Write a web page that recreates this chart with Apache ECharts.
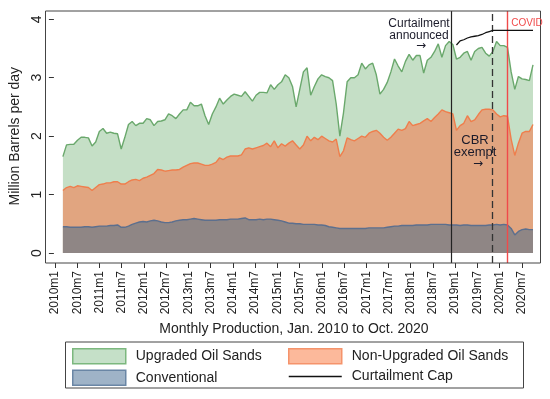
<!DOCTYPE html>
<html>
<head>
<meta charset="utf-8">
<script src="https://cdn.jsdelivr.net/npm/echarts@6/dist/echarts.min.js"></script>
<style>
html,body{margin:0;padding:0;background:#fff;}
#chart{width:550px;height:399px;}
</style>
</head>
<body>
<div id="chart"></div>
<script>
// Categories: monthly labels Jan 2010 .. Oct 2020
const months = [];
for (let y = 2010; y <= 2020; y++) {
  for (let m = 1; m <= 12; m++) {
    if (y === 2020 && m > 10) break;
    months.push(y + 'm' + m);
  }
}

// Cumulative (stacked) tops, million barrels per day
// Conventional
const conventional = [
  0.45,0.45,0.44,0.44,0.44,0.44,0.45,0.45,0.44,0.45,
  0.46,0.46,0.46,0.47,0.47,0.48,0.44,0.44,0.46,0.49,
  0.51,0.53,0.54,0.53,0.55,0.56,0.55,0.53,0.52,0.52,
  0.53,0.55,0.56,0.57,0.57,0.58,0.59,0.58,0.57,0.56,
  0.56,0.56,0.56,0.57,0.57,0.57,0.58,0.58,0.58,0.59,
  0.60,0.57,0.57,0.57,0.58,0.57,0.58,0.58,0.57,0.56,
  0.55,0.53,0.51,0.51,0.50,0.50,0.49,0.49,0.49,0.49,
  0.48,0.48,0.47,0.45,0.44,0.43,0.42,0.42,0.42,0.42,
  0.42,0.42,0.42,0.42,0.43,0.43,0.43,0.43,0.43,0.44,
  0.45,0.46,0.46,0.47,0.47,0.47,0.47,0.48,0.48,0.48,
  0.48,0.49,0.49,0.49,0.49,0.49,0.48,0.48,0.48,0.47,
  0.48,0.48,0.47,0.47,0.47,0.47,0.47,0.48,0.48,0.49,
  0.48,0.49,0.48,0.42,0.31,0.37,0.40,0.41,0.40,0.40
];
// Conventional + Non-Upgraded Oil Sands
const nonUpgradedTop = [
  1.07,1.12,1.14,1.12,1.15,1.14,1.13,1.12,1.07,1.12,
  1.17,1.18,1.20,1.20,1.22,1.22,1.18,1.18,1.22,1.25,
  1.26,1.24,1.28,1.30,1.33,1.36,1.43,1.42,1.40,1.41,
  1.42,1.42,1.43,1.47,1.50,1.53,1.54,1.54,1.52,1.50,
  1.50,1.52,1.55,1.63,1.60,1.64,1.66,1.66,1.66,1.68,
  1.78,1.80,1.78,1.80,1.82,1.84,1.88,1.82,1.92,1.80,
  1.87,1.83,1.88,1.92,1.85,1.78,1.85,2.00,1.92,1.98,
  1.94,2.00,1.96,1.92,1.90,1.95,1.65,1.75,1.97,1.94,
  1.92,1.96,2.00,1.98,2.05,2.08,2.10,2.05,1.98,1.93,
  1.98,2.05,2.12,2.10,2.13,2.25,2.18,2.20,2.22,2.26,
  2.30,2.25,2.32,2.38,2.45,2.42,2.40,2.38,2.10,2.18,
  2.22,2.35,2.25,2.28,2.37,2.45,2.46,2.46,2.45,2.38,
  2.33,2.35,2.34,1.95,1.67,1.88,2.05,2.08,2.08,2.20
];
// Total = Conventional + Non-Upgraded + Upgraded Oil Sands
const upgradedTop = [
  1.65,1.85,1.86,1.86,1.93,1.98,1.98,1.97,1.83,1.90,
  2.08,2.13,2.05,2.07,2.05,2.04,1.78,1.98,2.20,2.25,
  2.18,2.22,2.22,2.30,2.28,2.18,2.25,2.26,2.28,2.38,
  2.35,2.30,2.38,2.45,2.45,2.58,2.52,2.52,2.55,2.35,
  2.20,2.38,2.50,2.65,2.55,2.62,2.68,2.72,2.70,2.68,
  2.76,2.68,2.60,2.70,2.75,2.75,2.74,2.88,2.80,2.88,
  2.93,3.05,3.00,2.85,2.50,2.80,3.10,3.17,2.70,2.85,
  2.98,3.05,3.02,3.00,2.95,2.55,2.00,2.40,2.93,3.00,
  3.00,3.05,3.25,3.15,3.22,3.25,3.05,2.72,2.80,2.92,
  3.10,3.32,3.20,3.10,3.28,3.40,3.30,3.38,3.38,3.08,
  3.30,3.35,3.45,3.58,3.35,3.55,3.62,3.57,3.32,3.35,
  3.42,3.45,3.30,3.45,3.50,3.52,3.42,3.37,3.45,3.62,
  3.55,3.55,3.52,3.10,2.80,3.02,2.98,2.97,2.95,3.22
];
// Curtailment cap, Jan 2019 .. Oct 2020
const capMonths = ['2019m1','2019m2','2019m3','2019m4','2019m5','2019m6','2019m7','2019m8','2019m9','2019m10','2019m11','2019m12',
  '2020m1','2020m2','2020m3','2020m4','2020m5','2020m6','2020m7','2020m8','2020m9','2020m10'];
const capValues = [3.56,3.63,3.65,3.68,3.70,3.71,3.72,3.74,3.77,3.79,3.81,3.81,
  3.81,3.81,3.81,3.81,3.81,3.81,3.81,3.81,3.81,3.81];
// Event lines
const eventMonths = ['2018m12','2019m11','2020m3'];

const capSeries = months.map(m => {
  const i = capMonths.indexOf(m);
  return i >= 0 ? capValues[i] : null;
});

const FONT = "'Liberation Sans', Arial, sans-serif";
const chart = echarts.init(document.getElementById('chart'), null, {renderer: 'canvas'});

chart.setOption({
  animation: false,
  backgroundColor: '#ffffff',
  textStyle: {fontFamily: FONT},
  grid: [
    {left: 55, right: 17, top: 19.3, bottom: 146},
    {left: 55, right: 17, top: 11, bottom: 136}
  ],
  xAxis: [
    {gridIndex: 0, type: 'category', data: months, boundaryGap: false, show: false},
    {gridIndex: 1, type: 'category', data: months, boundaryGap: false,
      axisLine: {show: false},
      axisTick: {show: true, interval: 5, length: 5, lineStyle: {color: '#333', width: 1}},
      axisLabel: {interval: 5, rotate: 90, fontSize: 12, color: '#222', margin: 8, fontFamily: FONT},
      splitLine: {show: false},
      name: 'Monthly Production, Jan. 2010 to Oct. 2020',
      nameLocation: 'middle', nameGap: 58,
      nameTextStyle: {fontSize: 14, color: '#222', fontFamily: FONT}
    }
  ],
  yAxis: [
    {gridIndex: 0, type: 'value', min: 0, max: 4, interval: 1, offset: 9,
      axisLine: {show: false},
      axisTick: {show: true, length: 5, lineStyle: {color: '#333', width: 1}},
      axisLabel: {rotate: 90, fontSize: 14, color: '#222', margin: 10, fontFamily: FONT},
      splitLine: {show: false},
      name: 'Million Barrels per day', nameLocation: 'middle', nameGap: 28, nameRotate: 90,
      nameTextStyle: {fontSize: 14, color: '#222', fontFamily: FONT}
    },
    {gridIndex: 1, type: 'value', min: 0, max: 1, show: false}
  ],
  legend: [
    {left: 72, top: 348, orient: 'vertical', padding: 0, itemGap: 5, itemWidth: 53, itemHeight: 15,
      selectedMode: false,
      textStyle: {fontSize: 14, color: '#222', fontFamily: FONT, padding: [0, 0, 0, 5]},
      data: [
        {name: 'Upgraded Oil Sands', icon: 'rect', itemStyle: {color: '#c5e0c8', borderColor: '#7cb87e', borderWidth: 1.5}},
        {name: 'Conventional', icon: 'rect', itemStyle: {color: '#9fb3c7', borderColor: '#6a86a5', borderWidth: 1.5}}
      ]},
    {left: 288, top: 348, orient: 'vertical', padding: 0, itemGap: 5, itemWidth: 53, itemHeight: 15,
      selectedMode: false,
      textStyle: {fontSize: 14, color: '#222', fontFamily: FONT, padding: [0, 0, 0, 5]},
      data: [
        {name: 'Non-Upgraded Oil Sands', icon: 'rect', itemStyle: {color: '#fcb99b', borderColor: '#f5936b', borderWidth: 1.5}},
        {name: 'Curtailment Cap',
          itemStyle: {color: 'rgba(0,0,0,0)', borderColor: 'rgba(0,0,0,0)', borderWidth: 0, opacity: 0},
          lineStyle: {color: '#111', width: 1.5}}
      ]}
  ],
  series: [
    {name: 'Upgraded Oil Sands', type: 'line', xAxisIndex: 0, yAxisIndex: 0, data: upgradedTop,
      symbol: 'none', z: 2,
      lineStyle: {color: '#6aa86c', width: 1.4},
      itemStyle: {color: '#6aa86c'},
      areaStyle: {color: '#c5dfc6', opacity: 1}},
    {name: 'Non-Upgraded Oil Sands', type: 'line', xAxisIndex: 0, yAxisIndex: 0, data: nonUpgradedTop,
      symbol: 'none', z: 3,
      lineStyle: {color: '#ef7e4c', width: 1.4},
      itemStyle: {color: '#ef7e4c'},
      areaStyle: {color: '#e1a580', opacity: 1}},
    {name: 'Conventional', type: 'line', xAxisIndex: 0, yAxisIndex: 0, data: conventional,
      symbol: 'none', z: 4,
      lineStyle: {color: '#5c6f8e', width: 1.4},
      itemStyle: {color: '#5c6f8e'},
      areaStyle: {color: '#8f8685', opacity: 1}},
    {name: 'Curtailment Cap', type: 'line', xAxisIndex: 0, yAxisIndex: 0, data: capSeries,
      symbol: 'none', z: 6, connectNulls: false,
      lineStyle: {color: '#111', width: 1.3},
      itemStyle: {color: '#111'}},
    {name: 'events', type: 'line', xAxisIndex: 1, yAxisIndex: 1, data: months.map(() => null),
      symbol: 'none', z: 5, silent: true,
      markLine: {
        silent: true, symbol: 'none', label: {show: false},
        data: [
          {xAxis: eventMonths[0], lineStyle: {color: '#222', width: 1.2, type: 'solid'}},
          {xAxis: eventMonths[1], lineStyle: {color: '#333', width: 1.3, type: [7, 4]}},
          {xAxis: eventMonths[2], lineStyle: {color: '#f04a4a', width: 1.4, type: 'solid'}}
        ]
      }}
  ],
  graphic: [
    {type: 'rect', z: 10, silent: true, shape: {x: 45.5, y: 11, width: 495, height: 252},
      style: {fill: 'none', stroke: '#444', lineWidth: 1}},
    {type: 'rect', z: 10, silent: true, shape: {x: 65.5, y: 342, width: 458, height: 46},
      style: {fill: 'none', stroke: '#444', lineWidth: 1}},
    {type: 'text', z: 10, silent: true, x: 419, y: 17,
      style: {text: 'Curtailment\nannounced', fill: '#1b1b2a', font: "12px 'Liberation Sans', Arial", align: 'center', lineHeight: 12.5}},
    {type: 'text', z: 10, silent: true, x: 421, y: 40,
      style: {text: '→', fill: '#1b1b2a', font: "12px 'DejaVu Sans', Arial", align: 'center'}},
    {type: 'text', z: 10, silent: true, x: 475, y: 134,
      style: {text: 'CBR\nexempt', fill: '#1b1b2a', font: "13px 'Liberation Sans', Arial", align: 'center', lineHeight: 12.5}},
    {type: 'text', z: 10, silent: true, x: 478, y: 158,
      style: {text: '→', fill: '#1b1b2a', font: "12px 'DejaVu Sans', Arial", align: 'center'}},
    {type: 'text', z: 10, silent: true, x: 527, y: 18,
      style: {text: 'COVID', fill: '#f04a4a', font: "10px 'Liberation Sans', Arial", align: 'center'}}
  ]
});
</script>
</body>
</html>
